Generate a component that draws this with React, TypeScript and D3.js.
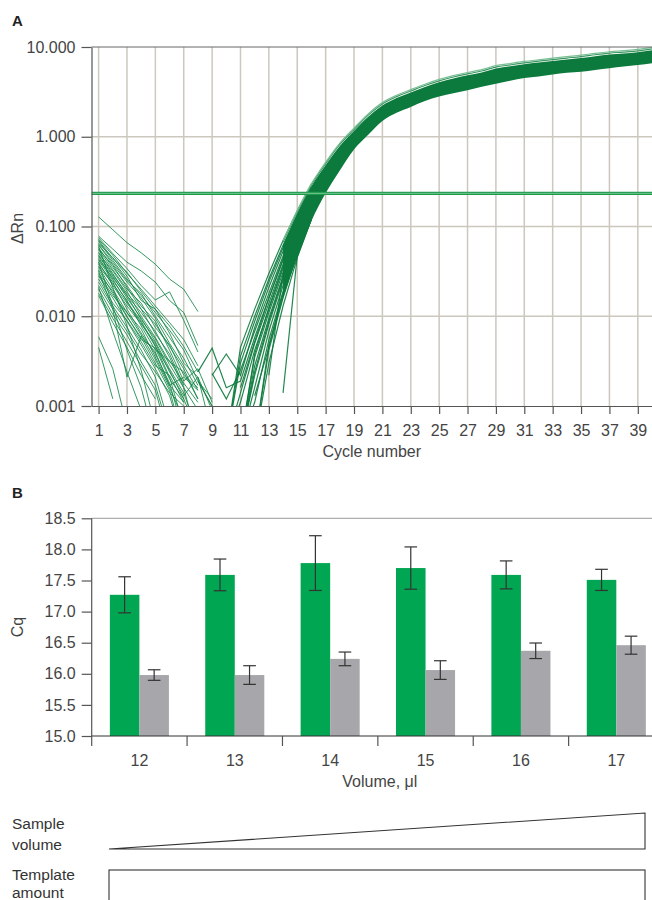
import React, { useRef, useEffect } from 'react';
import * as d3 from 'd3';

// Panel A: amplification plot
const cycleTicks = d3.range(1, 40, 2);
const deltaRnTicks = [0.001, 0.01, 0.1, 1, 10];
const deltaRnGrid = [0.01, 0.1, 1];
const threshold = 0.234;

// baseline noise, one array per well, starting at cycle 1 (values < 0.001 run off the axis)
const noiseWells: number[][] = [
    [0.128, 0.092, 0.066, 0.051, 0.038, 0.026, 0.020, 0.0113],
    [0.078, 0.056, 0.040, 0.032, 0.024, 0.015, 0.011, 0.0047],
    [0.075, 0.050, 0.034, 0.022, 0.0152, 0.0187, 0.009, 0.004],
    [0.072, 0.048, 0.030, 0.020, 0.013, 0.0085, 0.0055, 0.0028],
    [0.070, 0.044, 0.031, 0.019, 0.012, 0.0078, 0.0046, 0.0024],
    [0.068, 0.042, 0.026, 0.017, 0.011, 0.007, 0.0042, 0.0019, 0.0012],
    [0.065, 0.045, 0.028, 0.015, 0.012, 0.0065, 0.003, 0.0021, 0.0005],
    [0.063, 0.040, 0.025, 0.018, 0.010, 0.0058, 0.0034, 0.0017],
    [0.062, 0.038, 0.024, 0.016, 0.0095, 0.005, 0.0028, 0.0015],
    [0.058, 0.035, 0.022, 0.013, 0.0088, 0.0042, 0.0019, 0.0026, 0.0011],
    [0.056, 0.037, 0.021, 0.012, 0.0082, 0.0046, 0.0026, 0.0012],
    [0.055, 0.033, 0.020, 0.014, 0.0075, 0.0048, 0.0022, 0.0016],
    [0.052, 0.030, 0.017, 0.011, 0.0068, 0.0035, 0.0016, 0.0004],
    [0.050, 0.032, 0.019, 0.010, 0.0058, 0.0031, 0.0024, 0.0012],
    [0.048, 0.029, 0.018, 0.012, 0.0064, 0.0038, 0.0017],
    [0.047, 0.028, 0.016, 0.0095, 0.0052, 0.0026, 0.0014, 0.0005],
    [0.045, 0.026, 0.0145, 0.0088, 0.0047, 0.0021, 0.0006],
    [0.043, 0.027, 0.017, 0.0092, 0.0056, 0.0029, 0.0016, 0.0009],
    [0.042, 0.025, 0.015, 0.0078, 0.0042, 0.0032, 0.0018, 0.0011],
    [0.040, 0.022, 0.013, 0.0082, 0.005, 0.0024, 0.0013, 0.0021, 0.0009],
    [0.038, 0.024, 0.012, 0.0065, 0.0038, 0.0018, 0.0005],
    [0.036, 0.023, 0.014, 0.0085, 0.0046, 0.0025, 0.0012],
    [0.035, 0.020, 0.011, 0.0072, 0.0035, 0.0017, 0.0021, 0.0015],
    [0.033, 0.018, 0.0098, 0.0058, 0.003, 0.0015, 0.0004],
    [0.032, 0.012, 0.0021, 0.006, 0.004, 0.0017, 0.0011],
    [0.030, 0.019, 0.010, 0.0055, 0.0044, 0.0020, 0.0012, 0.0005],
    [0.029, 0.017, 0.011, 0.0062, 0.0033, 0.0016, 0.0007],
    [0.028, 0.016, 0.0088, 0.0048, 0.0026, 0.0013, 0.0004],
    [0.026, 0.014, 0.009, 0.0052, 0.0028, 0.0022, 0.0011],
    [0.024, 0.013, 0.0075, 0.0042, 0.0021, 0.0006],
    [0.022, 0.012, 0.0068, 0.0038, 0.0024, 0.0014, 0.0010],
    [0.020, 0.0105, 0.0062, 0.0031, 0.0017, 0.0005],
    [0.018, 0.0095, 0.0052, 0.0028, 0.0015, 0.0004],
    [0.017, 0.0085, 0.0045, 0.0022, 0.0012],
    [0.060, 0.021, 0.0078, 0.0025, 0.0006],
    [0.040, 0.013, 0.0042, 0.0016, 0.0004],
    [0.0059, 0.0026, 0.0006],
    [0.0045, 0.0012],
    [0.021, 0.0068, 0.0024, 0.0009],
];

// exponential phase, one array per well, starting at cycle 8
const riseStartCycle = 8;
const riseWells: number[][] = [
    [0, 0, 0.0004, 0.0045, 0.012, 0.030, 0.070, 0.15, 0.30],
    [0, 0, 0.0004, 0.0036, 0.010, 0.026, 0.062, 0.135, 0.28],
    [0, 0, 0.0004, 0.0030, 0.0088, 0.024, 0.058, 0.128, 0.26],
    [0, 0.0022, 0.0038, 0.0022, 0.0075, 0.021, 0.053, 0.12, 0.25],
    [0, 0.0023, 0.0012, 0.0025, 0.0068, 0.018, 0.047, 0.11, 0.23],
    [0.0024, 0.0044, 0.0016, 0.0019, 0.0058, 0.016, 0.042, 0.10, 0.22],
    [0.0019, 0.0010, 0.0004, 0.0014, 0.005, 0.014, 0.038, 0.092, 0.20],
    [0, 0, 0.0004, 0.0011, 0.0042, 0.012, 0.034, 0.085, 0.19],
    [0, 0, 0, 0.0004, 0.0038, 0.0125, 0.036, 0.088, 0.19],
    [0, 0, 0, 0.0004, 0.0035, 0.011, 0.031, 0.078, 0.18],
    [0, 0, 0, 0.0004, 0.0028, 0.0095, 0.028, 0.072, 0.17],
    [0, 0, 0, 0.0004, 0.0024, 0.0088, 0.027, 0.070, 0.165],
    [0, 0, 0, 0.0004, 0.0022, 0.0082, 0.025, 0.066, 0.16],
    [0, 0, 0, 0.0004, 0.0016, 0.0068, 0.022, 0.060, 0.15],
    [0, 0, 0, 0.0004, 0.0011, 0.0055, 0.019, 0.054, 0.14],
    [0, 0, 0, 0, 0.0004, 0.0048, 0.018, 0.052, 0.135],
    [0, 0, 0, 0, 0.0004, 0.0042, 0.016, 0.050, 0.13],
    [0, 0, 0, 0, 0.0004, 0.0030, 0.013, 0.045, 0.12],
    [0, 0, 0, 0, 0, 0.0022, 0.030, 0.070, 0.15],
    [0, 0, 0, 0, 0, 0, 0.0014, 0.047, 0.12],
    [0, 0, 0, 0, 0.0013, 0.0045, 0.017, 0.055, 0.14],
    [0, 0, 0, 0.0016, 0.0052, 0.016, 0.044, 0.11, 0.24],
];

// dense band of all wells from cycle 14 to 40
const bandStartCycle = 14;
const bandBottom = [0.016, 0.045, 0.115, 0.234, 0.42, 0.72, 1.05, 1.5, 1.85, 2.15, 2.5, 2.8, 3.05, 3.3, 3.6, 3.9, 4.2, 4.5, 4.7, 4.95, 5.15, 5.3, 5.55, 5.8, 6.05, 6.3, 6.6];
const bandDenseTop = [0.062, 0.14, 0.28, 0.48, 0.79, 1.16, 1.67, 2.23, 2.7, 3.12, 3.58, 4.05, 4.46, 4.84, 5.21, 5.77, 6.09, 6.42, 6.7, 6.98, 7.25, 7.53, 7.9, 8.23, 8.46, 8.74, 9.2];
const bandEdgeB = [0.067, 0.145, 0.29, 0.50, 0.82, 1.2, 1.74, 2.32, 2.8, 3.23, 3.72, 4.2, 4.63, 5.02, 5.4, 5.98, 6.32, 6.66, 6.95, 7.24, 7.53, 7.82, 8.2, 8.54, 8.78, 9.07, 9.55];
const bandEdgeA = [0.070, 0.15, 0.30, 0.52, 0.85, 1.25, 1.8, 2.4, 2.9, 3.35, 3.85, 4.35, 4.8, 5.2, 5.6, 6.2, 6.55, 6.9, 7.2, 7.5, 7.8, 8.1, 8.5, 8.85, 9.1, 9.4, 9.9];

// Panel B: Cq by volume
const volumes = ['12', '13', '14', '15', '16', '17'];
const cqGreen = [17.27, 17.59, 17.78, 17.70, 17.59, 17.51];
const cqGreenErr = [0.29, 0.255, 0.44, 0.34, 0.225, 0.17];
const cqGray = [15.98, 15.98, 16.24, 16.06, 16.37, 16.46];
const cqGrayErr = [0.085, 0.15, 0.11, 0.15, 0.125, 0.145];
const cqTicks = [15, 15.5, 16, 16.5, 17, 17.5, 18, 18.5];

const W = 652, H = 900;
const FONT = '"Liberation Sans", Arial, sans-serif';
const FS = '16px';
const TEXT = '#444';
const GRID = '#ccc8bd';
const DARK_GREEN = '#0b7a3c';

const App: React.FC = () => {
    const svgRef = useRef<SVGSVGElement | null>(null);

    useEffect(() => {
        if (!svgRef.current) return;
        const svg = d3.select(svgRef.current);
        svg.selectAll('*').remove();

        // ---------- Panel A ----------
        const x = d3.scaleLinear().domain([0.5, 40]).range([91.5, 652]);
        const y = d3.scaleLog().domain([0.001, 10]).range([406, 47]);

        svg.append('text').attr('x', 12).attr('y', 26).text('A')
            .style('font-family', FONT).style('font-weight', 'bold').style('font-size', '15px').attr('fill', '#222');

        const gA = svg.append('g');
        gA.append('defs').append('clipPath').attr('id', 'clipA')
            .append('rect').attr('x', x(0.5)).attr('y', y(10)).attr('width', 652 - x(0.5)).attr('height', y(0.001) - y(10));

        gA.selectAll('line.vgrid').data(cycleTicks).join('line')
            .attr('x1', d => x(d)).attr('x2', d => x(d)).attr('y1', y(10)).attr('y2', y(0.001))
            .attr('stroke', GRID).attr('stroke-width', 1.5);
        gA.selectAll('line.hgrid').data(deltaRnGrid).join('line')
            .attr('x1', x(0.5)).attr('x2', 652).attr('y1', d => y(d)).attr('y2', d => y(d))
            .attr('stroke', GRID).attr('stroke-width', 1.5);

        const plot = gA.append('g').attr('clip-path', 'url(#clipA)');
        const wellLine = (start: number) => d3.line<number>()
            .defined(d => d > 0)
            .x((_, i) => x(start + i))
            .y(d => y(d));

        plot.selectAll('path.noise').data(noiseWells).join('path')
            .attr('d', d => wellLine(1)(d))
            .attr('fill', 'none').attr('stroke', '#138645').attr('stroke-width', 1).attr('stroke-opacity', 0.85);

        plot.selectAll('path.rise').data(riseWells).join('path')
            .attr('d', d => wellLine(riseStartCycle)(d))
            .attr('fill', 'none').attr('stroke', DARK_GREEN).attr('stroke-width', 1.2).attr('stroke-opacity', 0.9);

        const idx = d3.range(bandBottom.length);
        const band = d3.area<number>()
            .x(i => x(bandStartCycle + i))
            .y0(i => y(bandBottom[i]))
            .y1(i => y(bandDenseTop[i]))
            .curve(d3.curveMonotoneX);
        plot.append('path').datum(idx).attr('d', band).attr('fill', DARK_GREEN);

        const edge = (arr: number[]) => d3.line<number>()
            .x(i => x(bandStartCycle + i)).y(i => y(arr[i])).curve(d3.curveMonotoneX)(idx);
        plot.append('path').attr('d', edge(bandEdgeB)).attr('fill', 'none').attr('stroke', '#3a9762').attr('stroke-width', 1.2);
        plot.append('path').attr('d', edge(bandEdgeA)).attr('fill', 'none').attr('stroke', '#7abf95').attr('stroke-width', 1.2);

        // threshold
        plot.append('line').attr('x1', x(0.5)).attr('x2', 652).attr('y1', y(threshold)).attr('y2', y(threshold))
            .attr('stroke', '#1f9a4c').attr('stroke-width', 3.2);
        plot.append('line').attr('x1', x(0.5)).attr('x2', 652).attr('y1', y(threshold)).attr('y2', y(threshold))
            .attr('stroke', '#7cc997').attr('stroke-width', 0.9);

        // frame
        gA.append('line').attr('x1', x(0.5)).attr('x2', 652).attr('y1', y(10)).attr('y2', y(10))
            .attr('stroke', '#666').attr('stroke-width', 1);

        const axA = gA.append('g').attr('transform', `translate(${x(0.5)},0)`)
            .call(d3.axisLeft(y).tickValues(deltaRnTicks).tickFormat(d3.format('.3f')).tickSize(10).tickPadding(6).tickSizeOuter(0));
        const axB = gA.append('g').attr('transform', `translate(0,${y(0.001)})`)
            .call(d3.axisBottom(x).tickValues(cycleTicks).tickFormat(d3.format('d')).tickSize(8).tickPadding(11).tickSizeOuter(0));
        [axA, axB].forEach(a => {
            a.select('.domain').attr('stroke', '#555').attr('stroke-width', 1.2);
            a.selectAll('.tick line').attr('stroke', '#555').attr('stroke-width', 1.2);
            a.selectAll('text').attr('fill', TEXT).style('font-family', FONT).style('font-size', FS);
        });

        svg.append('text').attr('x', (x(0.5) + 652) / 2).attr('y', 457).attr('text-anchor', 'middle')
            .text('Cycle number').attr('fill', TEXT).style('font-family', FONT).style('font-size', FS);
        svg.append('text').attr('transform', `translate(23,${(y(0.001) + y(10)) / 2 + 2}) rotate(-90)`)
            .attr('text-anchor', 'middle').text('ΔRn').attr('fill', TEXT).style('font-family', FONT).style('font-size', FS);

        // ---------- Panel B ----------
        svg.append('text').attr('x', 12).attr('y', 498).text('B')
            .style('font-family', FONT).style('font-weight', 'bold').style('font-size', '15px').attr('fill', '#222');

        const x0 = d3.scaleBand().domain(volumes).range([91.7, 664]).paddingInner(0).paddingOuter(0);
        const x1 = d3.scaleBand().domain(['green', 'gray']).range([0, x0.bandwidth()]).paddingInner(0).paddingOuter(0.615);
        const yB = d3.scaleLinear().domain([15, 18.5]).range([736, 518.3]);

        const gB = svg.append('g');
        gB.append('line').attr('x1', x0.range()[0]).attr('x2', 652).attr('y1', yB(18.5)).attr('y2', yB(18.5))
            .attr('stroke', '#999').attr('stroke-width', 1);

        const series = [
            { key: 'green', vals: cqGreen, errs: cqGreenErr, color: '#00a651' },
            { key: 'gray', vals: cqGray, errs: cqGrayErr, color: '#a7a7ab' },
        ];
        series.forEach(s => {
            const bx = (i: number) => (x0(volumes[i]) ?? 0) + (x1(s.key) ?? 0);
            gB.selectAll(`rect.${s.key}`).data(s.vals).join('rect')
                .attr('x', (_, i) => bx(i)).attr('width', x1.bandwidth())
                .attr('y', d => yB(d)).attr('height', d => yB(15) - yB(d))
                .attr('fill', s.color);
            const cx = (i: number) => bx(i) + x1.bandwidth() / 2;
            const eb = gB.selectAll(`g.err-${s.key}`).data(s.vals).join('g')
                .attr('stroke', '#333').attr('stroke-width', 1.2);
            eb.append('line').attr('x1', (_, i) => cx(i)).attr('x2', (_, i) => cx(i))
                .attr('y1', (d, i) => yB(d + s.errs[i])).attr('y2', (d, i) => yB(d - s.errs[i]));
            [1, -1].forEach(sign => {
                eb.append('line').attr('x1', (_, i) => cx(i) - 6.3).attr('x2', (_, i) => cx(i) + 6.3)
                    .attr('y1', (d, i) => yB(d + sign * s.errs[i])).attr('y2', (d, i) => yB(d + sign * s.errs[i]));
            });
        });

        const ayB = gB.append('g').attr('transform', `translate(${x0.range()[0]},0)`)
            .call(d3.axisLeft(yB).tickValues(cqTicks).tickFormat(d3.format('.1f')).tickSize(10).tickPadding(6).tickSizeOuter(0));
        ayB.select('.domain').remove();
        gB.append('line').attr('x1', x0.range()[0]).attr('x2', x0.range()[0]).attr('y1', yB(18.5)).attr('y2', 746)
            .attr('stroke', '#555').attr('stroke-width', 1.2);

        const axBx = gB.append('g').attr('transform', `translate(0,${yB(15)})`)
            .call(d3.axisBottom(x0).tickSize(0).tickPadding(19));
        axBx.select('.domain').remove();
        gB.append('line').attr('x1', x0.range()[0]).attr('x2', 652).attr('y1', yB(15)).attr('y2', yB(15))
            .attr('stroke', '#333').attr('stroke-width', 1.2);
        gB.selectAll('line.bound').data(volumes.slice(1)).join('line')
            .attr('x1', d => x0(d) ?? 0).attr('x2', d => x0(d) ?? 0)
            .attr('y1', yB(15)).attr('y2', yB(15) + 10)
            .attr('stroke', '#555').attr('stroke-width', 1.2);
        [ayB, axBx].forEach(a => {
            a.selectAll('.tick line').attr('stroke', '#555').attr('stroke-width', 1.2);
            a.selectAll('text').attr('fill', TEXT).style('font-family', FONT).style('font-size', FS);
        });

        svg.append('text').attr('x', (x0.range()[0] + 652) / 2 + 8).attr('y', 787).attr('text-anchor', 'middle')
            .text('Volume, μl').attr('fill', TEXT).style('font-family', FONT).style('font-size', FS);
        svg.append('text').attr('transform', `translate(23,${(yB(15) + yB(18.5)) / 2}) rotate(-90)`)
            .attr('text-anchor', 'middle').text('Cq').attr('fill', TEXT).style('font-family', FONT).style('font-size', FS);

        // ---------- scheme below ----------
        const label = (txt: string, yy: number) => svg.append('text').attr('x', 12).attr('y', yy).text(txt)
            .attr('fill', '#333').style('font-family', FONT).style('font-size', '15.5px');
        label('Sample', 829);
        label('volume', 850);
        label('Template', 880);
        label('amount', 898);

        const tri = d3.path();
        tri.moveTo(109, 849); tri.lineTo(645, 813); tri.lineTo(645, 849); tri.closePath();
        svg.append('path').attr('d', tri.toString()).attr('fill', 'none').attr('stroke', '#333').attr('stroke-width', 1.1);
        svg.append('rect').attr('x', 109).attr('y', 870).attr('width', 536).attr('height', 50)
            .attr('fill', 'none').attr('stroke', '#333').attr('stroke-width', 1.1);
    }, []);

    return (
        <svg ref={svgRef} width={W} height={H} viewBox={`0 0 ${W} ${H}`}
            style={{ position: 'absolute', left: 0, top: 0, background: '#fff', display: 'block' }} />
    );
};

export default App;
